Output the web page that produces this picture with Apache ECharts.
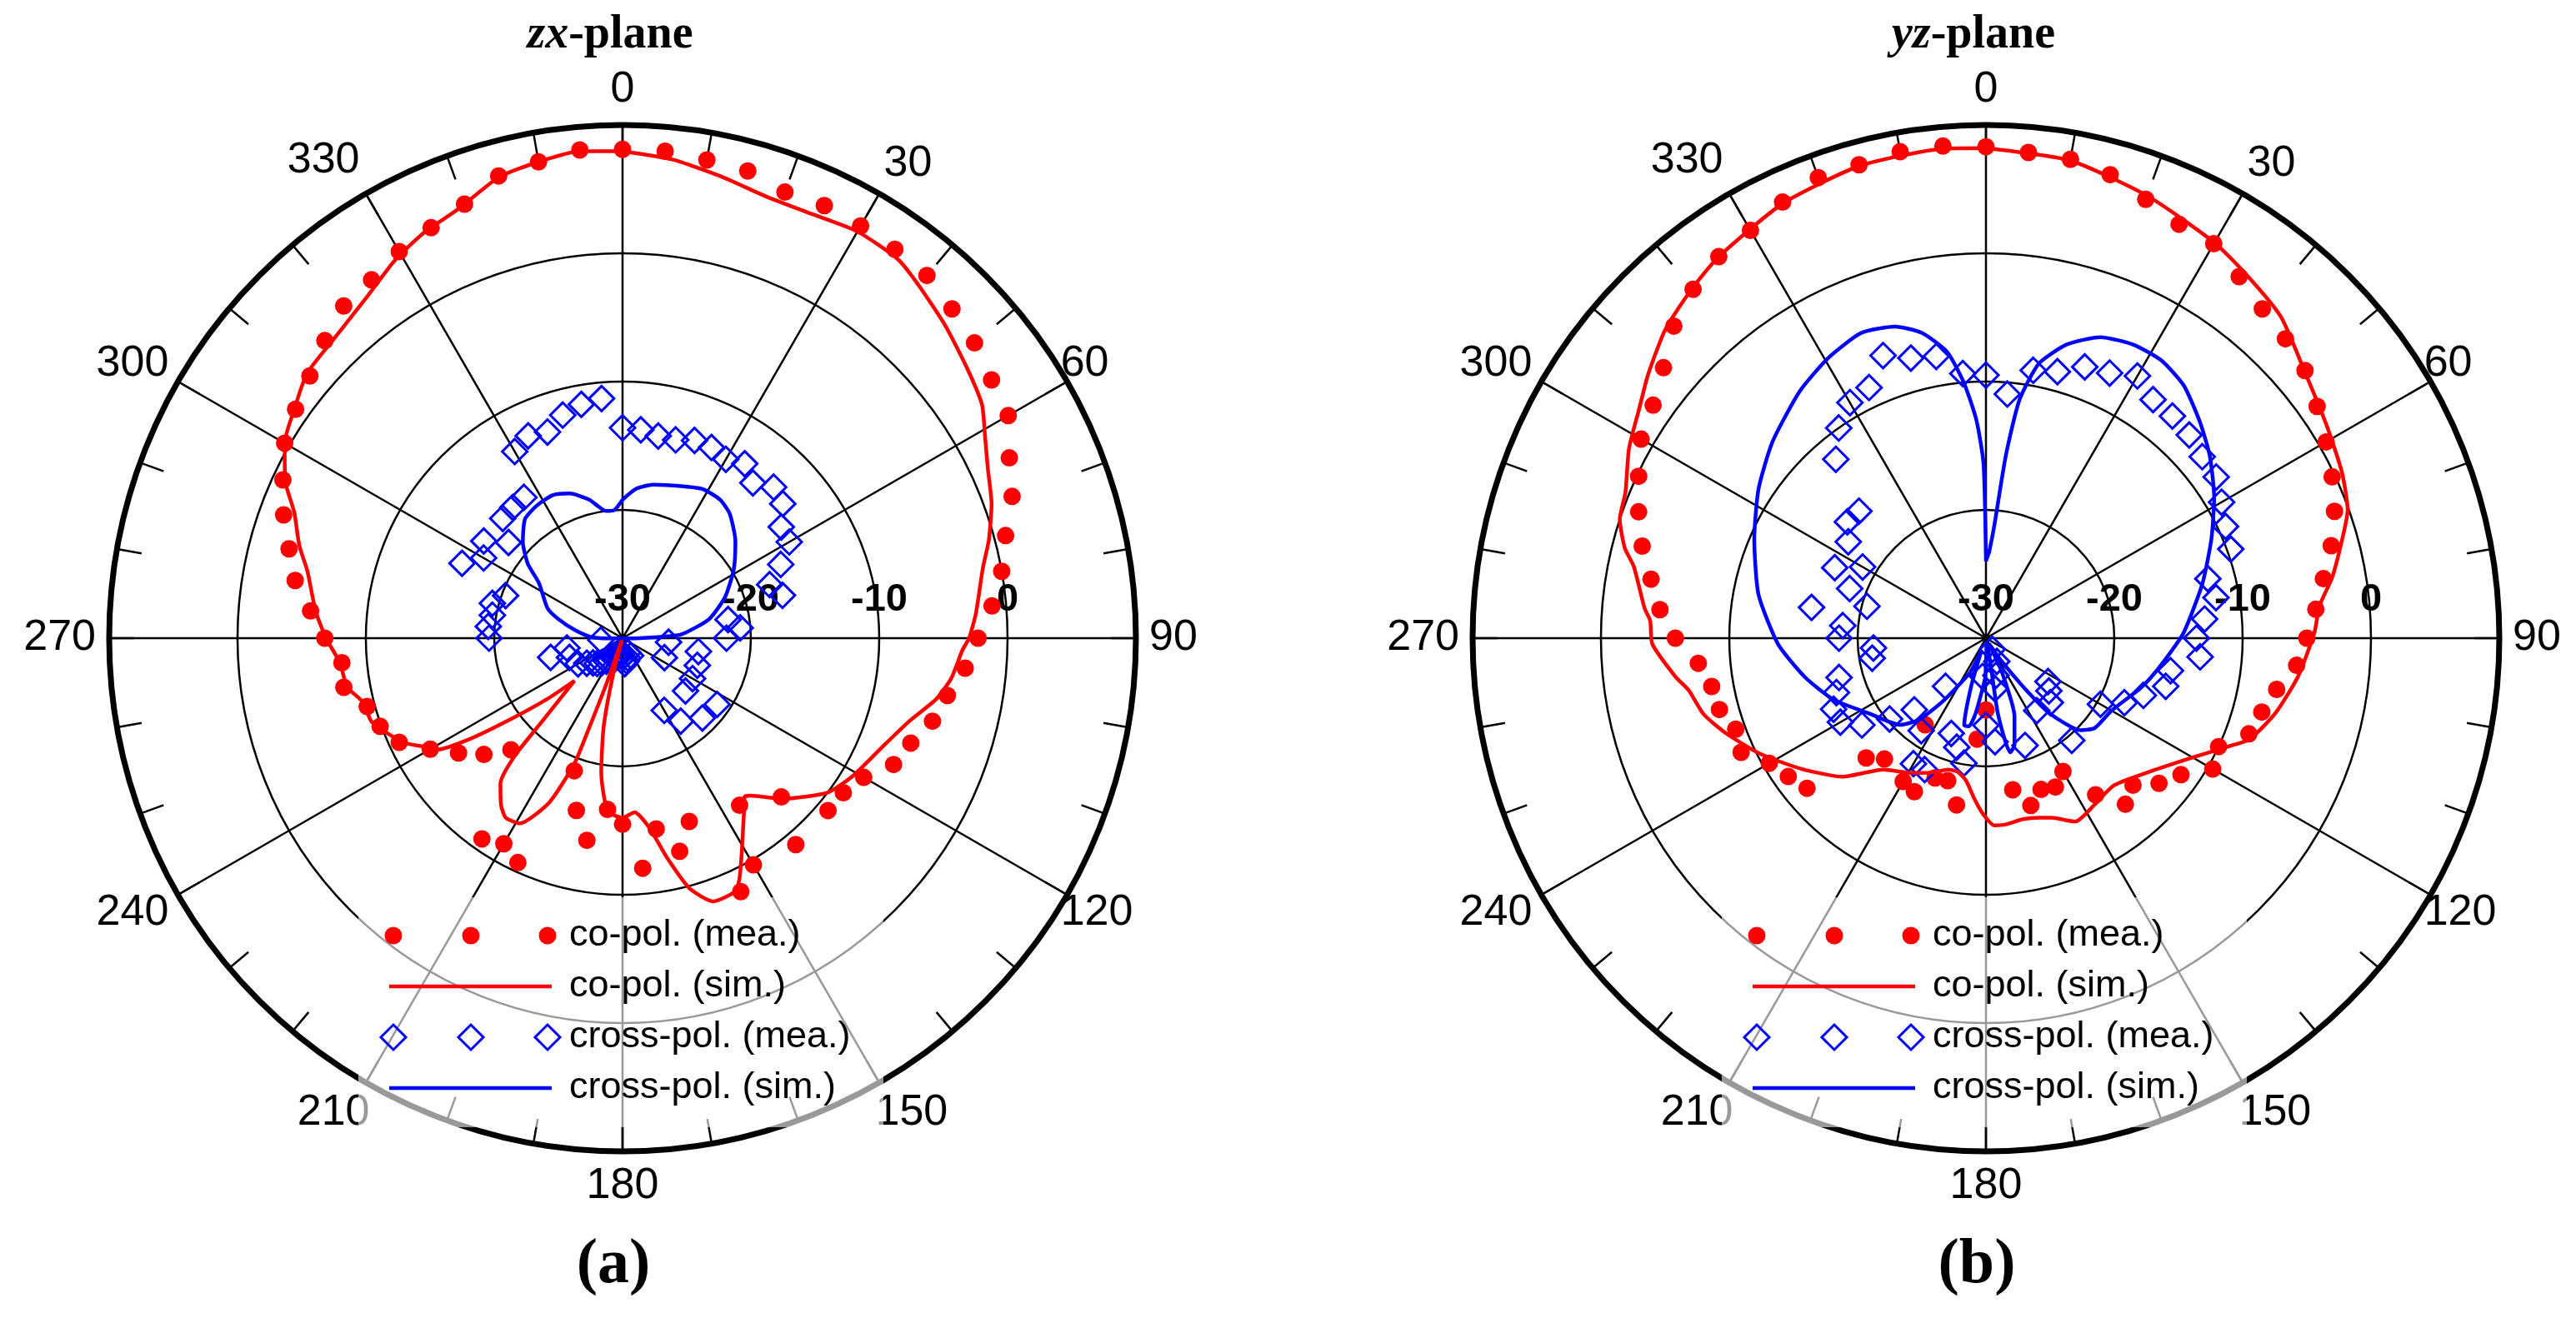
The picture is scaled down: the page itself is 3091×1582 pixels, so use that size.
<!DOCTYPE html>
<html>
<head>
<meta charset="utf-8">
<script src="https://cdn.jsdelivr.net/npm/echarts@6/dist/echarts.min.js"></script>
<style>
  html, body { margin: 0; padding: 0; background: #fff; }
  #chart { width: 3091px; height: 1582px; }
</style>
</head>
<body>
<div id="chart"></div>
<script>
// measured points, every 5 degrees
var meaAngles = [0, 5, 10, 15, 20, 25, 30, 35, 40, 45, 50, 55, 60, 65, 70, 75, 80, 85, 90, 95,
  100, 105, 110, 115, 120, 125, 130, 135, 140, 145, 150, 155, 160, 165, 170, 175, 180, 185, 190, 195,
  200, 205, 210, 215, 220, 225, 230, 235, 240, 245, 250, 255, 260, 265, 270, 275, 280, 285, 290, 295,
  300, 305, 310, 315, 320, 325, 330, 335, 340, 345, 350, 355];

var zxCoMea = [8.1, 8.1, 7.85, 7.7, 7.0, 7.2, 7.1, 7.0, 6.9, 6.3, 5.8, 5.1, 4.7, 3.25, 2.3, 0.9, 0.0, -1.1, -2.3, -3.2,
  -4.3, -5.0, -6.1, -6.7, -8.3, -9.0, -9.1, -12.5, -9.0, -14.1, -9.6, -8.2, -14.8, -12.8, -14.9, -12.0, -15.5, -16.6, -14.0, -16.1,
  -19.0, -10.7, -11.5, -10.9, null, -17.7, -15.9, -14.4, -12.7, -10.8, -9.9, -9.4, -7.95, -8.05, -6.8, -5.6, -4.1, -3.1, -1.9, -0.8,
  0.4, 1.1, 1.8, 2.8, 3.8, 4.1, 4.8, 5.3, 6.0, 7.3, 7.7, 8.2];

var zxCrossMea = [-13.6, -13.7, -14.0, -14.0, -13.6, -13.6, -13.9, -13.4, -14.2, -13.35, -13.7, -14.9, -15.0, -16.4, -17.8, -17.1, -21.65, -20.8, -21.9, -26.4,
  -24.0, null, -23.8, -26.4, -23.7, -21.0, -23.6, -21.2, null, -22.1, -23.5, -28.5, -28.8, -28.4, -28.2, -28.0, -28.5, -28.7, -28.9, -28.6,
  -28.3, -28.5, -28.0, -27.8, -27.5, -27.2, -27.0, -26.6, -26.0, null, -25.6, -24.2, -25.6, -28.3, -19.6, -19.5, -19.7, -19.5, -20.3, -16.2,
  -17.5, -16.8, -18.4, -16.8, -16.7, -16.6, -13.2, -12.6, -12.9, -12.0, -11.5, -11.25];

var yzCoMea = [8.3, 8.0, 7.9, 7.4, 6.4, 5.6, 5.5, 4.4, 3.5, 3.0, 2.45, 1.5, 0.6, -0.24, -1.1, -2.15, -3.3, -4.2, -5.0, -5.7,
  -7.0, -7.75, -8.2, -10.0, -9.6, -11.45, -12.4, -13.8, -13.1, -15.1, -18.0, -17.2, -17.45, -16.5, -18.0, null, -24.4, -22.1, -16.8, -18.5,
  -18.4, -16.8, -17.1, -21.75, -17.7, -16.8, -11.8, -11.2, -10.5, -8.95, -9.25, -8.5, -8.3, -7.5, -5.8, -4.5, -3.5, -2.27, -1.2, -0.14,
  1.03, 1.66, 2.8, 4.4, 5.5, 6.3, 6.7, 7.5, 8.2, 8.2, 8.5, 8.5];

var yzCrossMea = [-9.5, -10.9, -8.8, -8.5, -7.5, -7.2, -6.4, -7.3, -7.4, -7.6, -8.0, -8.1, -8.8, -9.4, -9.7, -12.1, -11.8, -12.9, -13.6, -13.25,
  -15.4, -15.5, -16.95, -18.1, -19.7, -24.1, -23.6, -22.9, -19.6, -23.1, -29.0, -28.0, -21.1, -27.0, -26.0, -21.9, -23.2, -27.0, -20.1, -21.2,
  -22.1, -18.7, -18.7, -21.2, -25.1, -22.1, -20.2, -18.2, -16.9, -16.9, -17.6, -18.15, -21.0, -21.2, -18.55, -18.8, -16.2, -20.4, -18.7, -17.0,
  -18.9, -16.9, -15.9, -16.0, -11.8, -10.0, -8.8, -8.45, -6.56, -7.4, -7.7, -9.3];

// simulated curves
var zxCoSimAngle = [0, 6, 12, 18, 24, 30, 36, 40, 46, 52, 57, 61, 65, 70, 75, 79, 86, 90, 92, 97,
  101, 106, 113, 121, 127, 135, 141, 142.5, 145, 151, 154, 156, 161, 165, 168.5, 172, 176, 180, 185, 189,
  192, 194.5, 197, 199.5, 200.5, 201, 204, 209, 213, 216, 220, 222.5, 224, 228.5, 231, 234, 236.5, 239, 241, 244.5,
  251.5, 256, 260, 265, 270, 275, 282, 286, 291, 295, 300, 305, 310, 316, 323, 329, 334, 339, 345, 350, 355, 360];
var zxCoSimDb = [7.95, 7.5, 6.8, 6.2, 6.2, 6.6, 6.5, 5.9, 5.0, 4.1, 3.4, 2.3, 1.4, 0.6, -0.45, -1.4, -2.4, -3.0, -3.5, -4.2,
  -5.1, -6.7, -8.1, -9.1, -10.0, -12.3, -14.2, -14.4, -13.5, -10.85, -9.2, -8.4, -8.3, -9.8, -12.5, -15.1, -16.4, -16.0, -16.5, -19.4,
  -22.9, -27, -30, -26, -22, -19.5, -16, -13.5, -13.3, -13.9, -15.2, -17.6, -21, -25, -22.5, -19.3, -15.8, -13.1, -12.5, -11.1,
  -9.4, -9.2, -8.2, -7.9, -6.9, -6.0, -4.9, -3.8, -2.6, -1.0, 0.4, 1.2, 2.1, 2.4, 3.2, 4.4, 5.2, 5.8, 7.2, 7.7, 8.1, 7.95];

var zxCrossSimAngle = [0, 5.3, 11.2, 21, 28.3, 35.1, 40.7, 49.3, 58.2, 68.2, 77.6, 86.5, 88.4, 92, 100, 180, 260, 268, 271.6, 279.3,
  286.5, 291.8, 303.4, 308.2, 314, 320.7, 327, 334, 340, 346.5, 349.3, 352.5, 356.3, 360];
var zxCrossSimDb = [-19.2, -18.3, -17.8, -17.3, -16.8, -16.8, -17.2, -18.4, -19.8, -21.4, -23.1, -25.45, -27.6, -29.5, -30, -30, -30, -29.5, -27.6, -26.3,
  -24.8, -23.7, -22.2, -20.6, -19.2, -18.0, -17.7, -17.6, -18.0, -18.9, -19.5, -20.0, -20.0, -19.2];

var yzCoSimAngle = [0, 10, 20, 30, 36, 42.5, 50, 58, 65, 70.5, 74.5, 80, 84.5, 89, 97, 104.5, 111, 114.5, 120, 129,
  139, 147, 154, 160, 163.5, 168.5, 174, 177.5, 181, 184, 188, 192, 196, 203, 209, 218, 226, 235, 243, 250,
  255, 260, 263, 269, 273, 275, 281.5, 284, 288, 292, 298, 303.5, 308, 314, 320, 325, 335, 345, 355, 360];
var yzCoSimDb = [8.2, 7.8, 6.7, 5.6, 4.8, 4.0, 2.4, 1.3, 0.6, -0.1, -1.2, -2.6, -3.9, -4.4, -5.5, -6.7, -8.0, -9.5, -11.4, -13.5,
  -14.8, -14.5, -14.1, -15.1, -15.4, -15.6, -15.4, -15.4, -16.3, -17.4, -18.8, -19.35, -19.35, -18.6, -18.0, -17.0, -14.45, -12.3, -10.2, -8.4,
  -7.2, -6.5, -5.6, -4.0, -3.8, -3.3, -2.0, -1.0, 0.0, 0.3, 1.5, 2.4, 3.4, 4.7, 5.6, 6.3, 7.4, 8.1, 8.3, 8.2];

var yzCrossSimAngle = [0, 1.5, 2.1, 4.3, 6.2, 8, 10.9, 15.4, 20.8, 26.7, 32.3, 38.1, 44.7, 50.8, 58.3, 66.2, 75.8, 88.5, 97.3, 103.5,
  108.3, 120, 129.5, 134.2, 139.7, 142.3, 146, 150, 155, 160, 165, 168, 171, 174, 178, 181, 184, 188, 191, 194,
  197, 200, 203, 205, 214, 219.3, 224.7, 237, 248, 257.7, 268.3, 280.9, 293.2, 303.3, 312.6, 323, 330.6, 337.8, 343.7, 348.2,
  352.3, 355.1, 357.5, 359.2, 360];
var yzCrossSimDb = [-24, -23.5, -23.3, -21.1, -15.7, -11.25, -8.2, -6.25, -4.9, -4.4, -4.4, -5.0, -6.3, -7.5, -9.1, -10.8, -12.6, -14.6, -16.0, -16.8,
  -17.4, -18.7, -19.0, -19.7, -22.3, -25.0, -28, -29.5, -27, -23.5, -21.4, -20.9, -24, -29.5, -29, -27, -26, -24, -23, -23.0,
  -26, -29, -28, -27, -24.2, -21.8, -20.5, -19.2, -17.2, -15.6, -13.8, -11.95, -10.36, -8.8, -7.4, -5.9, -4.94, -4.3, -4.7, -5.7,
  -7.5, -10.06, -13, -16.4, -24];

var angleTicks = [90, 450];   // angle axis runs clockwise from the right, 0 at the top
var dbTicks = [-30, 10];
var legendNames = ['co-pol. (mea.)', 'co-pol. (sim.)', 'cross-pol. (mea.)', 'cross-pol. (sim.)'];

var centers = [[747, 766], [2383, 766]];
var R = 616;
var RED = '#ff0000';
var BLUE = '#0000ff';
var SANS = 'Arial, "Liberation Sans", sans-serif';
var SERIF = '"Times New Roman", "Liberation Serif", serif';

// extra space on the inner side of each angle label, so they sit at about the same distance
var labelPad = {
  0: [0, 0, 25, 0], 30: [0, 0, 18, 10], 60: [0, 0, 0, 0], 90: [0, 0, 0, 25],
  120: [0, 0, 0, 0], 150: [18, 0, 0, 0], 180: [25, 0, 0, 0], 210: [18, 0, 0, 0],
  240: [0, 19, 0, 0], 270: [0, 25, 0, 0], 300: [0, 19, 0, 0], 330: [0, 12, 22, 0]
};
var angleRich = {};
Object.keys(labelPad).forEach(function (k) {
  angleRich['p' + k] = { padding: labelPad[k], fontSize: 52, fontFamily: SANS, color: '#000' };
});

function toPoints(db, ang) {
  var out = [];
  for (var i = 0; i < db.length; i++) {
    if (db[i] !== null) out.push([db[i], ang[i]]);
  }
  return out;
}

function angleAxisFor(idx) {
  return {
    polarIndex: idx,
    type: 'value',
    min: angleTicks[0],
    max: angleTicks[1],
    interval: 30,
    startAngle: 0,
    clockwise: true,
    axisLine: { show: true, lineStyle: { color: '#000', width: 7 } },
    axisTick: { show: true, inside: true, length: 30, lineStyle: { color: '#000', width: 2.5 } },
    minorTick: { show: true, splitNumber: 3, length: 30, lineStyle: { color: '#000', width: 2.5 } },
    splitLine: { show: true, lineStyle: { color: '#000', width: 2.5 } },
    axisLabel: {
      formatter: function (v) { var t = v % 360; return '{p' + t + '|' + t + '}'; },
      margin: -9,
      color: '#000',
      fontSize: 52,
      fontFamily: SANS,
      rich: angleRich
    }
  };
}

function radiusAxisFor(idx) {
  return {
    polarIndex: idx,
    type: 'value',
    min: dbTicks[0],
    max: dbTicks[1],
    interval: 10,
    axisLine: { show: false },
    axisTick: { show: false },
    splitLine: { show: true, lineStyle: { color: '#000', width: 2.5 } },
    axisLabel: {
      formatter: function (v) { return v === 10 ? '' : String(v); },
      margin: 22,
      color: '#000',
      fontWeight: 'bold',
      fontSize: 47,
      fontFamily: SANS
    }
  };
}

function seriesFor(idx, coMea, coSimA, coSimD, crossMea, crossSimA, crossSimD) {
  return [
    {
      name: legendNames[1], type: 'line', coordinateSystem: 'polar', polarIndex: idx,
      data: toPoints(coSimD, coSimA), showSymbol: false, smooth: 0.2,
      lineStyle: { color: RED, width: 4.5 }
    },
    {
      name: legendNames[3], type: 'line', coordinateSystem: 'polar', polarIndex: idx,
      data: toPoints(crossSimD, crossSimA), showSymbol: false, smooth: 0.2,
      lineStyle: { color: BLUE, width: 4.5 }
    },
    {
      name: legendNames[0], type: 'scatter', coordinateSystem: 'polar', polarIndex: idx,
      data: toPoints(coMea, meaAngles), symbol: 'circle', symbolSize: 21,
      itemStyle: { color: RED, opacity: 1 }
    },
    {
      name: legendNames[2], type: 'scatter', coordinateSystem: 'polar', polarIndex: idx,
      data: toPoints(crossMea, meaAngles), symbol: 'diamond', symbolSize: 30,
      itemStyle: { color: 'rgba(0,0,0,0)', borderColor: BLUE, borderWidth: 3, opacity: 1 }
    }
  ];
}

// hand-drawn legend (three markers per row), with the half-transparent box behind it
function legendFor(dx) {
  var rows = [1123, 1184, 1245, 1306];
  var xs = [472, 565, 657];
  var els = [];
  els.push({
    type: 'rect', z: 1,
    shape: { x: 430 + dx, y: 1077, width: 630, height: 276 },
    style: { fill: 'rgba(255,255,255,0.6)' }
  });
  xs.forEach(function (x) {
    els.push({ type: 'circle', z: 10, shape: { cx: x + dx, cy: rows[0], r: 10.5 }, style: { fill: RED } });
    els.push({
      type: 'polygon', z: 10,
      shape: { points: [[x + dx, rows[2] - 15], [x + dx + 15, rows[2]], [x + dx, rows[2] + 15], [x + dx - 15, rows[2]]] },
      style: { fill: 'none', stroke: BLUE, lineWidth: 3 }
    });
  });
  els.push({ type: 'line', z: 10, shape: { x1: 467 + dx, y1: rows[1], x2: 662 + dx, y2: rows[1] }, style: { stroke: RED, lineWidth: 4.5 } });
  els.push({ type: 'line', z: 10, shape: { x1: 467 + dx, y1: rows[3], x2: 662 + dx, y2: rows[3] }, style: { stroke: BLUE, lineWidth: 4.5 } });
  legendNames.forEach(function (name, i) {
    els.push({
      type: 'text', z: 10,
      style: { text: name, x: 683 + dx, y: rows[i], fill: '#000', fontSize: 45, fontFamily: SANS, verticalAlign: 'middle' }
    });
  });
  return els;
}

var titleRich = {
  i: { fontFamily: SERIF, fontStyle: 'italic', fontWeight: 'bold', fontSize: 56, color: '#000' },
  b: { fontFamily: SERIF, fontWeight: 'bold', fontSize: 56, color: '#000' },
  p: { fontFamily: SERIF, fontSize: 76, color: '#000' },
  q: { fontFamily: SERIF, fontWeight: 'bold', fontSize: 76, color: '#000' }
};

var chart = echarts.init(document.getElementById('chart'), null, { renderer: 'canvas' });

var option = {
  animation: false,
  backgroundColor: '#fff',
  title: [
    { text: '{i|zx}{b|-plane}', left: centers[0][0] - 20, top: 10, textAlign: 'center', textStyle: { rich: titleRich } },
    { text: '{i|yz}{b|-plane}', left: centers[1][0] - 20, top: 10, textAlign: 'center', textStyle: { rich: titleRich } },
    { text: '{p|(}{q|a}{p|)}', left: centers[0][0] - 16, top: 1476, textAlign: 'center', textStyle: { rich: titleRich } },
    { text: '{p|(}{q|b}{p|)}', left: centers[1][0] - 16, top: 1476, textAlign: 'center', textStyle: { rich: titleRich } }
  ],
  polar: [
    { center: centers[0], radius: R },
    { center: centers[1], radius: R }
  ],
  angleAxis: [angleAxisFor(0), angleAxisFor(1)],
  radiusAxis: [radiusAxisFor(0), radiusAxisFor(1)],
  graphic: { elements: legendFor(0).concat(legendFor(centers[1][0] - centers[0][0])) },
  series: seriesFor(0, zxCoMea, zxCoSimAngle, zxCoSimDb, zxCrossMea, zxCrossSimAngle, zxCrossSimDb)
    .concat(seriesFor(1, yzCoMea, yzCoSimAngle, yzCoSimDb, yzCrossMea, yzCrossSimAngle, yzCrossSimDb))
};

chart.setOption(option);
</script>
</body>
</html>
